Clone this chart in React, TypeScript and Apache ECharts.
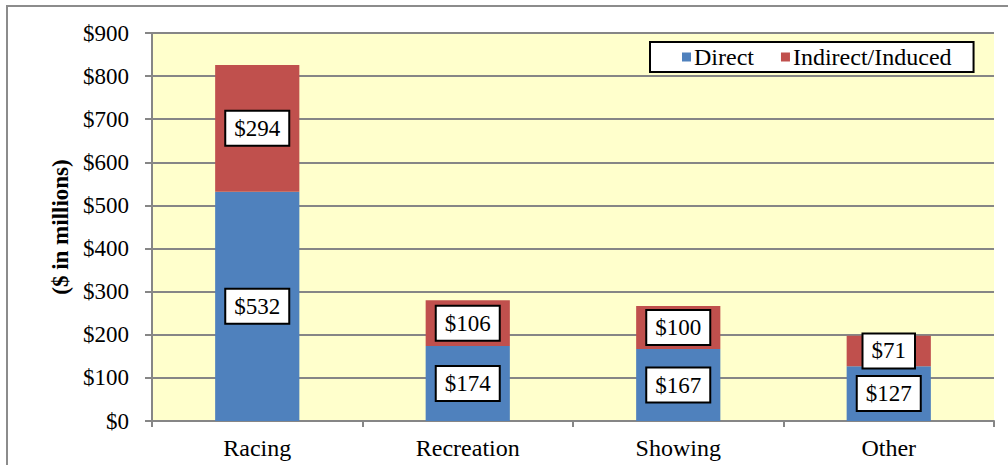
import React, { useEffect, useRef } from "react";
import * as echarts from "echarts";

const categories = ["Racing", "Recreation", "Showing", "Other"];
const directValues = [532, 174, 167, 127];
const indirectValues = [294, 106, 100, 71];
const seriesNames = ["Direct", "Indirect/Induced"];
const yAxisName = "($ in millions)";

const FONT = "'Liberation Serif', 'Times New Roman', serif";

export default function App() {
  const ref = useRef<HTMLDivElement>(null);
  useEffect(() => {
    if (!ref.current) return;
    const chart = echarts.init(ref.current, undefined, { renderer: "svg" });
    const labelStyle = {
      show: true,
      position: "inside",
      formatter: (p: any) => "$" + p.value,
      color: "#000",
      fontFamily: FONT,
      fontSize: 23,
      backgroundColor: "#fff",
      borderColor: "#000",
      borderWidth: 2,
      padding: [6, 8, 4, 8],
    };
    chart.setOption({
      animation: false,
      textStyle: { fontFamily: FONT },
      graphic: [
        {
          type: "rect",
          shape: { x: 7, y: 6, width: 1200, height: 600 },
          style: { fill: "none", stroke: "#8c8c8c", lineWidth: 2 },
          silent: true,
          z: -10,
        },
      ],
      legend: {
        left: 650,
        top: 42,
        backgroundColor: "#fff",
        borderColor: "#000",
        borderWidth: 2,
        padding: [3, 22, 3, 32],
        itemWidth: 9,
        itemHeight: 9,
        itemGap: 27,
        icon: "rect",
        textStyle: { fontFamily: FONT, fontSize: 24, color: "#000", padding: [3, 0, 0, -2] },
        data: seriesNames,
      },
      grid: {
        left: 152,
        right: 14,
        top: 33,
        bottom: 44,
        show: true,
        backgroundColor: "#FFFFCC",
        borderWidth: 0,
      },
      xAxis: {
        type: "category",
        data: categories,
        axisLine: { lineStyle: { color: "#868686", width: 2 } },
        axisTick: { show: true, length: 6, lineStyle: { color: "#868686", width: 2 } },
        axisLabel: { color: "#000", fontFamily: FONT, fontSize: 24, margin: 15 },
      },
      yAxis: {
        type: "value",
        min: 0,
        max: 900,
        interval: 100,
        name: yAxisName,
        nameLocation: "middle",
        nameGap: 74,
        nameTextStyle: { fontFamily: FONT, fontSize: 23, fontWeight: "bold", color: "#000" },
        axisLine: { show: true, lineStyle: { color: "#868686", width: 2 } },
        axisTick: { show: true, length: 7, lineStyle: { color: "#868686", width: 2 } },
        axisLabel: {
          color: "#000",
          fontFamily: FONT,
          fontSize: 23,
          margin: 23,
          formatter: (v: number) => "$" + v,
        },
        splitLine: { lineStyle: { color: "#868686", width: 2 } },
      },
      series: [
        {
          name: seriesNames[0],
          type: "bar",
          stack: "total",
          data: directValues,
          barWidth: "40%",
          itemStyle: { color: "#4F81BD" },
          label: labelStyle,
        },
        {
          name: seriesNames[1],
          type: "bar",
          stack: "total",
          data: indirectValues,
          barWidth: "40%",
          itemStyle: { color: "#C0504D" },
          label: labelStyle,
        },
      ],
    });
    return () => chart.dispose();
  }, []);
  return (
    <div
      ref={ref}
      style={{ position: "fixed", left: 0, top: 0, width: 1008, height: 465, background: "#fff" }}
    />
  );
}
